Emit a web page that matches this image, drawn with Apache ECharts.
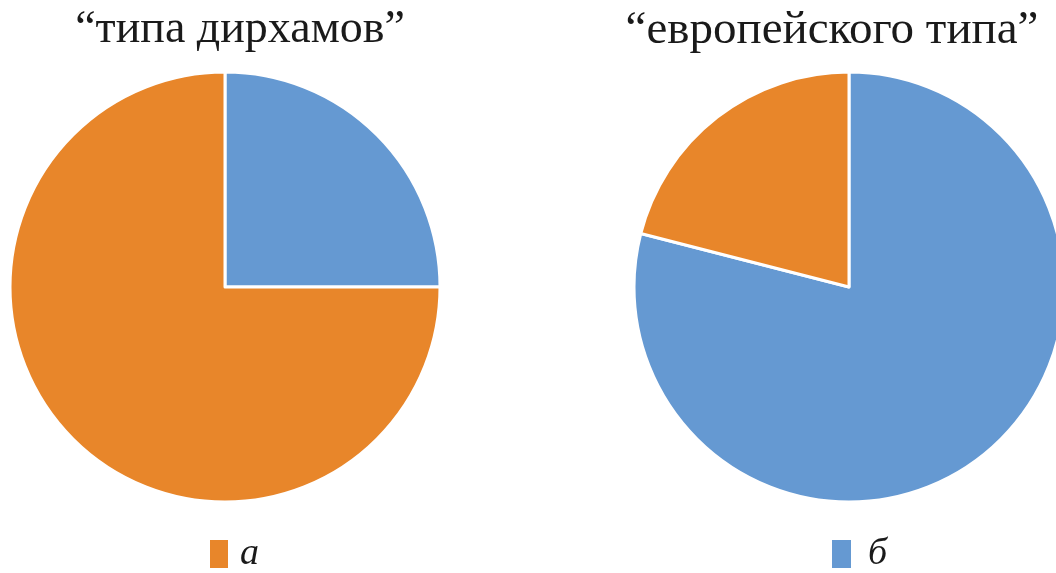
<!DOCTYPE html>
<html>
<head>
<meta charset="utf-8">
<script src="https://cdn.jsdelivr.net/npm/echarts@6/dist/echarts.min.js"></script>
<style>html,body{margin:0;padding:0;background:#fff}#c{width:1056px;height:573px}</style>
</head>
<body>
<div id="c"></div>
<script>
const categories = ['б', 'а'];
const titles = ['“типа дирхамов”', '“европейского типа”'];
const dirhamValues = [25, 75];
const europeanValues = [79, 21];
const colors = ['#6599D2', '#E8862A'];

const chart = echarts.init(document.getElementById('c'), null, {renderer: 'canvas'});
const serif = '"Liberation Serif", "DejaVu Serif", serif';

function pieData(vals) {
  return categories.map((c, i) => ({name: c, value: vals[i], itemStyle: {color: colors[i]}}));
}

chart.setOption({
  animation: false,
  backgroundColor: '#fff',
  title: [
    {text: titles[0], left: 240, top: 7, padding: 0, textAlign: 'center',
     textStyle: {fontFamily: serif, fontSize: 46, fontWeight: 'normal', color: '#1a1a1a'}},
    {text: titles[1], left: 832, top: 7, padding: 0, textAlign: 'center',
     textStyle: {fontFamily: serif, fontSize: 47, fontWeight: 'normal', color: '#1a1a1a'}}
  ],
  legend: [
    {data: ['а'], left: 203, top: 530, icon: 'rect', itemWidth: 20, itemHeight: 30,
     selectedMode: false,
     textStyle: {fontFamily: serif, fontStyle: 'italic', fontSize: 38, color: '#1a1a1a', padding: [10, 0, 0, 6]}},
    {data: ['б'], left: 825, top: 530, icon: 'rect', itemWidth: 21, itemHeight: 30,
     selectedMode: false,
     textStyle: {fontFamily: serif, fontStyle: 'italic', fontSize: 38, color: '#1a1a1a', padding: [10, 0, 0, 11]}}
  ],
  series: [
    {type: 'pie', center: [225, 287], radius: 215, startAngle: 90, clockwise: true,
     data: pieData(dirhamValues), label: {show: false}, labelLine: {show: false},
     itemStyle: {borderColor: '#fff', borderWidth: 3}, emphasis: {disabled: true}, silent: true},
    {type: 'pie', center: [849, 287], radius: 215, startAngle: 90, clockwise: true,
     data: pieData(europeanValues), label: {show: false}, labelLine: {show: false},
     itemStyle: {borderColor: '#fff', borderWidth: 3}, emphasis: {disabled: true}, silent: true}
  ]
});
</script>
</body>
</html>
